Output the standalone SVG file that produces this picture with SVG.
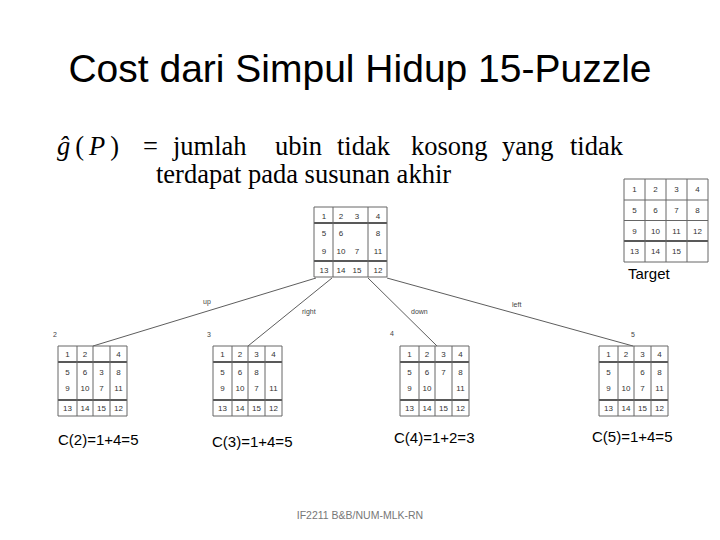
<svg xmlns="http://www.w3.org/2000/svg" width="720" height="540" viewBox="0 0 720 540">
<style>
.title{font-family:"Liberation Sans",Arial,sans-serif;font-size:39px;fill:#000}
.f{font-family:"Liberation Serif","Times New Roman",serif;font-size:26.5px;fill:#000}
.c{font-family:"Liberation Sans",Arial,sans-serif;font-size:8px;fill:#333;text-anchor:middle;dominant-baseline:central}
.lbl{font-family:"Liberation Sans",Arial,sans-serif;font-size:7px;fill:#444}
.cost{font-family:"Liberation Sans",Arial,sans-serif;font-size:15px;fill:#000}
.foot{font-family:"Liberation Sans",Arial,sans-serif;font-size:10.5px;fill:#777;text-anchor:middle}
.gl{stroke:#666;stroke-width:1}
.gk{stroke:#222;stroke-width:1.4}
.e{stroke:#333;stroke-width:0.8;fill:none}
</style>
<defs>
<g id="frame">
<line class="gl" x1="0" y1="0" x2="69" y2="0"/>
<line class="gk" x1="0" y1="16" x2="69" y2="16"/>
<line class="gk" x1="0" y1="54" x2="69" y2="54"/>
<line class="gl" x1="0" y1="70" x2="69" y2="70"/>
<line class="gl" x1="0" y1="0" x2="0" y2="70"/>
<line class="gl" x1="19" y1="0" x2="19" y2="70"/>
<line class="gl" x1="35" y1="0" x2="35" y2="70"/>
<line class="gl" x1="52" y1="0" x2="52" y2="70"/>
<line class="gl" x1="69" y1="0" x2="69" y2="70"/>
</g>
</defs>
<rect width="720" height="540" fill="#fff"/>
<text class="title" x="360" y="82" text-anchor="middle">Cost dari Simpul Hidup 15-Puzzle</text>
<g id="formula">
<text class="f" x="57" y="155" font-size="28" letter-spacing="5"><tspan font-style="italic">ĝ</tspan>(<tspan font-style="italic">P</tspan>)</text>
<text class="f" x="143" y="155">=</text>
<text class="f" x="173" y="155">jumlah</text>
<text class="f" x="275" y="155">ubin</text>
<text class="f" x="337" y="155">tidak</text>
<text class="f" x="411" y="155">kosong</text>
<text class="f" x="502" y="155">yang</text>
<text class="f" x="570" y="155">tidak</text>
<text class="f" x="156" y="183">terdapat pada susunan akhir</text>
</g>
<g id="connectors">
<line class="e" x1="316" y1="278" x2="93" y2="346"/>
<line class="e" x1="332" y1="278" x2="248" y2="346"/>
<line class="e" x1="368" y1="278" x2="437" y2="346"/>
<line class="e" x1="387" y1="278" x2="633" y2="346"/>
<text class="lbl" x="203" y="304">up</text>
<text class="lbl" x="302" y="314">right</text>
<text class="lbl" x="411" y="314">down</text>
<text class="lbl" x="512" y="307">left</text>
</g>
<g id="root" transform="translate(314,207)">
<line class="gl" x1="0" y1="0" x2="73" y2="0"/>
<line class="gk" x1="0" y1="16" x2="73" y2="16"/>
<line class="gk" x1="0" y1="54" x2="73" y2="54"/>
<line class="gl" x1="0" y1="70" x2="73" y2="70"/>
<line class="gl" x1="0" y1="0" x2="0" y2="70"/>
<line class="gl" x1="19" y1="0" x2="19" y2="70"/>
<line class="gl" x1="54" y1="0" x2="54" y2="70"/>
<line class="gl" x1="73" y1="0" x2="73" y2="70"/>
<text class="c" x="10" y="9">1</text><text class="c" x="27" y="9">2</text><text class="c" x="43" y="9">3</text><text class="c" x="64" y="9">4</text>
<text class="c" x="10" y="26">5</text><text class="c" x="27" y="26">6</text><text class="c" x="64" y="26">8</text>
<text class="c" x="10" y="44">9</text><text class="c" x="27" y="44">10</text><text class="c" x="43" y="44">7</text><text class="c" x="64" y="44">11</text>
<text class="c" x="10" y="63">13</text><text class="c" x="27" y="63">14</text><text class="c" x="43" y="63">15</text><text class="c" x="64" y="63">12</text>
</g>
<g id="target" transform="translate(624,179)">
<line class="gl" x1="0" y1="0" x2="84" y2="0"/>
<line class="gl" x1="0" y1="21" x2="84" y2="21"/>
<line class="gl" x1="0" y1="41.5" x2="84" y2="41.5"/>
<line class="gk" x1="0" y1="62" x2="84" y2="62"/>
<line class="gl" x1="0" y1="83" x2="84" y2="83"/>
<line class="gl" x1="0" y1="0" x2="0" y2="83"/>
<line class="gl" x1="21" y1="0" x2="21" y2="83"/>
<line class="gl" x1="42" y1="0" x2="42" y2="83"/>
<line class="gl" x1="63" y1="0" x2="63" y2="83"/>
<line class="gl" x1="84" y1="0" x2="84" y2="83"/>
<text class="c" x="10.5" y="10.5">1</text><text class="c" x="31.5" y="10.5">2</text><text class="c" x="52.5" y="10.5">3</text><text class="c" x="73.5" y="10.5">4</text>
<text class="c" x="10.5" y="31">5</text><text class="c" x="31.5" y="31">6</text><text class="c" x="52.5" y="31">7</text><text class="c" x="73.5" y="31">8</text>
<text class="c" x="10.5" y="52">9</text><text class="c" x="31.5" y="52">10</text><text class="c" x="52.5" y="52">11</text><text class="c" x="73.5" y="52">12</text>
<text class="c" x="10.5" y="72.5">13</text><text class="c" x="31.5" y="72.5">14</text><text class="c" x="52.5" y="72.5">15</text>
<text x="4" y="100" style="font-family:'Liberation Sans',Arial,sans-serif;font-size:15px;fill:#000">Target</text>
</g>
<g id="node2">
<text class="lbl" x="53" y="337">2</text>
<g transform="translate(58,346)">
<use href="#frame"/>
<text class="c" x="9.5" y="8">1</text><text class="c" x="27" y="8">2</text><text class="c" x="60.5" y="8">4</text>
<text class="c" x="9.5" y="26">5</text><text class="c" x="27" y="26">6</text><text class="c" x="43.5" y="26">3</text><text class="c" x="60.5" y="26">8</text>
<text class="c" x="9.5" y="42">9</text><text class="c" x="27" y="42">10</text><text class="c" x="43.5" y="42">7</text><text class="c" x="60.5" y="42">11</text>
<text class="c" x="9.5" y="62">13</text><text class="c" x="27" y="62">14</text><text class="c" x="43.5" y="62">15</text><text class="c" x="60.5" y="62">12</text>
</g>
<text class="cost" x="58" y="445">C(2)=1+4=5</text>
</g>
<g id="node3">
<text class="lbl" x="207" y="337">3</text>
<g transform="translate(213,346)">
<use href="#frame"/>
<text class="c" x="9.5" y="8">1</text><text class="c" x="27" y="8">2</text><text class="c" x="43.5" y="8">3</text><text class="c" x="60.5" y="8">4</text>
<text class="c" x="9.5" y="26">5</text><text class="c" x="27" y="26">6</text><text class="c" x="43.5" y="26">8</text>
<text class="c" x="9.5" y="42">9</text><text class="c" x="27" y="42">10</text><text class="c" x="43.5" y="42">7</text><text class="c" x="60.5" y="42">11</text>
<text class="c" x="9.5" y="62">13</text><text class="c" x="27" y="62">14</text><text class="c" x="43.5" y="62">15</text><text class="c" x="60.5" y="62">12</text>
</g>
<text class="cost" x="212" y="447">C(3)=1+4=5</text>
</g>
<g id="node4">
<text class="lbl" x="390" y="336">4</text>
<g transform="translate(400,346)">
<use href="#frame"/>
<text class="c" x="9.5" y="8">1</text><text class="c" x="27" y="8">2</text><text class="c" x="43.5" y="8">3</text><text class="c" x="60.5" y="8">4</text>
<text class="c" x="9.5" y="26">5</text><text class="c" x="27" y="26">6</text><text class="c" x="43.5" y="26">7</text><text class="c" x="60.5" y="26">8</text>
<text class="c" x="9.5" y="42">9</text><text class="c" x="27" y="42">10</text><text class="c" x="60.5" y="42">11</text>
<text class="c" x="9.5" y="62">13</text><text class="c" x="27" y="62">14</text><text class="c" x="43.5" y="62">15</text><text class="c" x="60.5" y="62">12</text>
</g>
<text class="cost" x="394" y="443">C(4)=1+2=3</text>
</g>
<g id="node5">
<text class="lbl" x="631" y="337">5</text>
<g transform="translate(599,346)">
<use href="#frame"/>
<text class="c" x="9.5" y="8">1</text><text class="c" x="27" y="8">2</text><text class="c" x="43.5" y="8">3</text><text class="c" x="60.5" y="8">4</text>
<text class="c" x="9.5" y="26">5</text><text class="c" x="43.5" y="26">6</text><text class="c" x="60.5" y="26">8</text>
<text class="c" x="9.5" y="42">9</text><text class="c" x="27" y="42">10</text><text class="c" x="43.5" y="42">7</text><text class="c" x="60.5" y="42">11</text>
<text class="c" x="9.5" y="62">13</text><text class="c" x="27" y="62">14</text><text class="c" x="43.5" y="62">15</text><text class="c" x="60.5" y="62">12</text>
</g>
<text class="cost" x="592" y="442">C(5)=1+4=5</text>
</g>
<text class="foot" x="360" y="519">IF2211 B&amp;B/NUM-MLK-RN</text>
</svg>
